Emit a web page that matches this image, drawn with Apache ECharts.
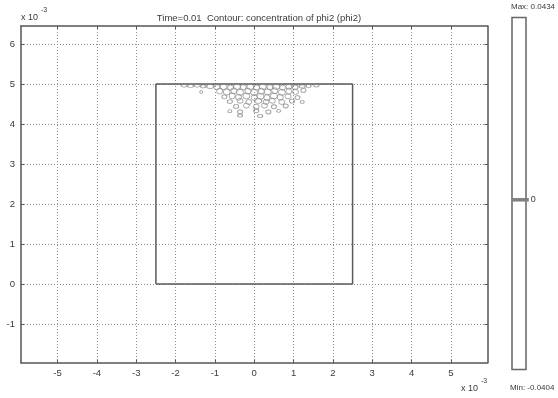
<!DOCTYPE html>
<html>
<head>
<meta charset="utf-8">
<script src="https://cdn.jsdelivr.net/npm/echarts@6/dist/echarts.min.js"></script>
<style>html,body{margin:0;padding:0;background:#fff;}#c{width:558px;height:398px;}</style>
</head>
<body>
<div id="c"></div>
<script>
// ---- data ----
const titleText = 'Time=0.01  Contour: concentration of phi2 (phi2)';
const xTicks = [-5, -4, -3, -2, -1, 0, 1, 2, 3, 4, 5];
const yTicks = [-1, 0, 1, 2, 3, 4, 5, 6];
const xRange = [-5.93, 5.93];
const yRange = [-1.97, 6.45];
const domain = [[-2.5, 0], [2.5, 0], [2.5, 5], [-2.5, 5], [-2.5, 0]];
// contour loops: [x, y, width(px), height(px)]
const loops = [
  [-1.78, 4.96, 6, 3], [-1.62, 4.95, 6, 3], [-1.45, 4.96, 6, 3], [-1.3, 4.94, 5, 3], [-1.12, 4.94, 7, 4],
  [-0.95, 4.92, 6, 5], [-0.78, 4.93, 7, 5], [-0.6, 4.91, 6, 5], [-0.44, 4.93, 7, 5], [-0.28, 4.92, 6, 5],
  [-0.1, 4.93, 7, 5], [0.06, 4.91, 6, 5], [0.22, 4.93, 7, 5], [0.4, 4.92, 6, 5], [0.56, 4.93, 7, 5],
  [0.72, 4.91, 6, 5], [0.88, 4.93, 6, 5], [1.04, 4.92, 6, 4], [1.22, 4.94, 6, 3], [1.38, 4.95, 5, 3], [1.58, 4.96, 5, 3],
  [-1.35, 4.8, 3, 3], [-0.88, 4.82, 6, 6], [-0.7, 4.8, 7, 6], [-0.52, 4.83, 6, 6], [-0.36, 4.79, 7, 6],
  [-0.16, 4.82, 6, 6], [0.0, 4.79, 7, 6], [0.18, 4.82, 6, 6], [0.34, 4.8, 7, 6], [0.52, 4.83, 6, 6],
  [0.7, 4.79, 7, 6], [0.88, 4.82, 6, 6], [1.05, 4.8, 6, 5], [1.25, 4.84, 5, 4],
  [-0.76, 4.68, 5, 4], [-0.56, 4.7, 6, 6], [-0.4, 4.67, 6, 6], [-0.2, 4.7, 7, 6], [0.0, 4.66, 6, 6],
  [0.16, 4.69, 7, 6], [0.32, 4.66, 6, 6], [0.5, 4.7, 7, 6], [0.66, 4.67, 6, 6], [0.86, 4.69, 6, 5], [1.1, 4.66, 5, 4],
  [-0.62, 4.56, 5, 4], [-0.36, 4.58, 6, 5], [-0.14, 4.55, 6, 5], [0.1, 4.58, 7, 5], [0.3, 4.55, 6, 5],
  [0.46, 4.58, 6, 5], [0.7, 4.55, 6, 5], [0.96, 4.57, 5, 4], [1.22, 4.55, 4, 3],
  [-0.46, 4.44, 5, 4], [-0.2, 4.46, 6, 5], [0.05, 4.43, 6, 5], [0.26, 4.46, 6, 5], [0.5, 4.43, 5, 4], [0.8, 4.45, 5, 4],
  [-0.62, 4.32, 4, 3], [-0.36, 4.3, 5, 4], [0.05, 4.33, 5, 4], [0.36, 4.3, 5, 4], [0.62, 4.33, 4, 3],
  [-0.36, 4.21, 5, 3], [0.15, 4.2, 5, 3]
];
const cMax = 0.0434;
const cMin = -0.0404;
const cMarker = 0;
// ---- chart ----
const chart = echarts.init(document.getElementById('c'), null, {renderer: 'canvas'});
const FONT = 'Liberation Sans, Arial, sans-serif';
const TXT = '#3a3a3a';
const AX = '#555';
const axBase = () => ({
  axisLine: {show: true, onZero: false, lineStyle: {color: AX, width: 1.5}},
  axisTick: {show: true, inside: true, length: 3, lineStyle: {color: AX}},
  splitLine: {show: false}
});
const option = {
  animation: false,
  backgroundColor: '#fff',
  title: {
    text: titleText, left: 254, top: 8, textAlign: 'center',
    textStyle: {fontFamily: FONT, fontSize: 9.5, fontWeight: 'normal', color: TXT}
  },
  grid: [
    {left: 21, top: 26, width: 466.5, height: 336.7, show: false},
    {left: 512, top: 17.5, width: 14, height: 352, show: true, borderColor: '#666', borderWidth: 1.5, backgroundColor: '#fff'}
  ],
  xAxis: [
    Object.assign(axBase(), {
      gridIndex: 0, type: 'value', min: xRange[0], max: xRange[1], position: 'bottom',
      axisTick: {show: true, inside: true, length: 3, lineStyle: {color: AX}, customValues: xTicks},
      axisLabel: {customValues: xTicks, color: TXT, fontFamily: FONT, fontSize: 9.5, margin: 6},
      splitLine: {show: true, lineStyle: {color: '#8c8c8c', type: [1, 2], width: 1}}
    }),
    Object.assign(axBase(), {
      gridIndex: 0, type: 'value', min: xRange[0], max: xRange[1], position: 'top',
      axisTick: {show: true, inside: true, length: 3, lineStyle: {color: AX}, customValues: xTicks},
      axisLabel: {show: false}
    }),
    {gridIndex: 1, type: 'value', min: 0, max: 1, show: false}
  ],
  yAxis: [
    Object.assign(axBase(), {
      gridIndex: 0, type: 'value', min: yRange[0], max: yRange[1], position: 'left',
      axisTick: {show: true, inside: true, length: 3, lineStyle: {color: AX}, customValues: yTicks},
      axisLabel: {customValues: yTicks, color: TXT, fontFamily: FONT, fontSize: 9.5, margin: 6},
      splitLine: {show: true, lineStyle: {color: '#8c8c8c', type: [1, 2], width: 1}}
    }),
    Object.assign(axBase(), {
      gridIndex: 0, type: 'value', min: yRange[0], max: yRange[1], position: 'right',
      axisTick: {show: true, inside: true, length: 3, lineStyle: {color: AX}, customValues: yTicks},
      axisLabel: {show: false}
    }),
    {gridIndex: 1, type: 'value', min: cMin, max: cMax, show: false}
  ],
  graphic: [
    {type: 'text', left: 21, top: 13, style: {text: 'x 10', font: '9px ' + FONT, fill: TXT}},
    {type: 'text', left: 41, top: 7, style: {text: '-3', font: '7px ' + FONT, fill: TXT}},
    {type: 'text', left: 461, top: 384, style: {text: 'x 10', font: '9px ' + FONT, fill: TXT}},
    {type: 'text', left: 481, top: 378, style: {text: '-3', font: '7px ' + FONT, fill: TXT}},
    {type: 'text', left: 511, top: 3, style: {text: 'Max: ' + cMax, font: '8px ' + FONT, fill: TXT}},
    {type: 'text', left: 510, top: 384, style: {text: 'Min: ' + cMin, font: '8px ' + FONT, fill: TXT}}
  ],
  series: [
    {
      type: 'line', xAxisIndex: 0, yAxisIndex: 0, data: domain, symbol: 'none',
      lineStyle: {color: '#5a5a5a', width: 1.5}, z: 3
    },
    {
      type: 'scatter', xAxisIndex: 0, yAxisIndex: 0,
      data: loops, symbol: 'circle',
      symbolSize: (v) => [v[2], v[3]],
      itemStyle: {color: 'rgba(0,0,0,0)', borderColor: '#888', borderWidth: 0.9}, z: 4
    },
    {
      type: 'line', xAxisIndex: 2, yAxisIndex: 2, data: [[0, cMarker], [1.2, cMarker]], symbol: 'none',
      clip: false, lineStyle: {color: '#808080', width: 3.5},
      endLabel: {show: true, formatter: String(cMarker), color: TXT, fontFamily: FONT, fontSize: 9, distance: 2}
    }
  ]
};
chart.setOption(option);
</script>
</body>
</html>
